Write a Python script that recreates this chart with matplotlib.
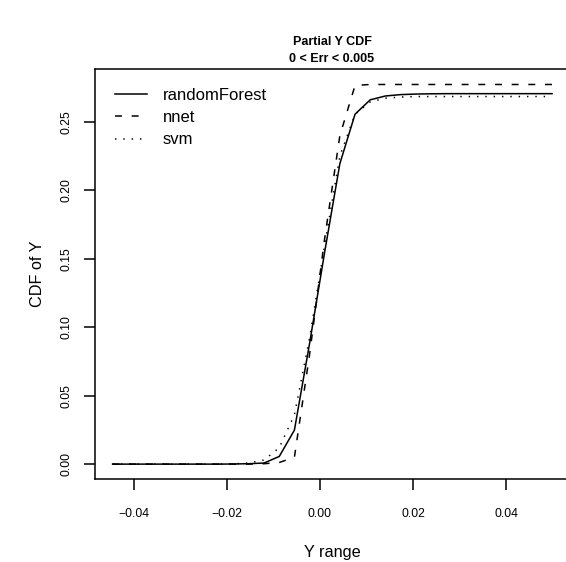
import matplotlib
matplotlib.use("Agg")
import matplotlib.pyplot as plt

plt.rcParams['font.family'] = ['Liberation Sans', 'DejaVu Sans']
plt.rcParams['lines.scale_dashes'] = False

# ---- data ----
y_range = [-0.04450, -0.04125, -0.03800, -0.03475, -0.03150, -0.02824, -0.02499,
           -0.02174, -0.01849, -0.01524, -0.01199, -0.00874, -0.00549, -0.00224,
           0.00101, 0.00427, 0.00752, 0.01077, 0.01402, 0.01727, 0.02052, 0.02378,
           0.02703, 0.03028, 0.03353, 0.03678, 0.04003, 0.04328, 0.04653, 0.04978]

cdf_randomForest = [0, 0, 0, 0, 0, 0, 0, 0, 0.0001, 0.0003, 0.0008, 0.0056, 0.0248,
                    0.088, 0.155, 0.2195, 0.2555, 0.2660, 0.2688, 0.2698, 0.2702,
                    0.2704, 0.2705, 0.2705, 0.2705, 0.2705, 0.2705, 0.2705, 0.2705, 0.2705]
cdf_nnet = [0, 0, 0, 0, 0, 0, 0, 0, 0, 0, 0.0003, 0.0012, 0.0050, 0.080, 0.165,
            0.240, 0.2765, 0.2772, 0.2772, 0.2772, 0.2772, 0.2772, 0.2772, 0.2772,
            0.2772, 0.2772, 0.2772, 0.2772, 0.2772, 0.2772]
cdf_svm = [0, 0, 0, 0, 0, 0, 0, 0, 0.0002, 0.0008, 0.0030, 0.0120, 0.0360, 0.092,
           0.160, 0.225, 0.2555, 0.2645, 0.2672, 0.2680, 0.2684, 0.2684, 0.2684,
           0.2684, 0.2684, 0.2684, 0.2684, 0.2684, 0.2684, 0.2684]

series_names = ["randomForest", "nnet", "svm"]
x_ticks = [-0.04, -0.02, 0.00, 0.02, 0.04]
y_ticks = [0.00, 0.05, 0.10, 0.15, 0.20, 0.25]

W, H = 566, 562
fig = plt.figure(figsize=(W / 100, H / 100), dpi=100)
left, right, top, bottom = 95, 569.6, 69.3, 479.3
ax = fig.add_axes([left / W, 1 - bottom / H, (right - left) / W, (bottom - top) / H])

lw = 1.1
ax.plot(y_range, cdf_randomForest, color='black', lw=lw, label=series_names[0])
ax.plot(y_range, cdf_nnet, color='black', lw=lw, dashes=(5.0, 7.0), label=series_names[1])
ax.plot(y_range, cdf_svm, color='black', lw=lw, dashes=(1.0, 5.0), label=series_names[2])
ax.margins(x=0.04, y=0.04)

ax.set_xticks(x_ticks)
ax.set_xticklabels(["\u22120.04", "\u22120.02", "0.00", "0.02", "0.04"])
ax.set_yticks(y_ticks)
ax.set_yticklabels(["0.00", "0.05", "0.10", "0.15", "0.20", "0.25"])
ax.tick_params(axis='both', length=8, width=1.1, labelsize=8.8, color='black')
ax.tick_params(axis='x', pad=13.0)
ax.tick_params(axis='y', pad=8.0)
for lab in ax.get_yticklabels():
    lab.set_rotation(90)
    lab.set_va('center')
for sp in ax.spines.values():
    sp.set_linewidth(1.1)

leg = ax.legend(loc='upper left', bbox_to_anchor=(115 / W, 1 - 87.5 / H),
                bbox_transform=fig.transFigure, frameon=False, fontsize=12,
                handlelength=1.92, handletextpad=0.96, labelspacing=0.45,
                borderpad=0, borderaxespad=0)

fig.text(332 / W, 1 - 42 / H, "Partial Y CDF", ha='center', va='center',
         fontsize=9, fontweight='bold')
fig.text(332 / W, 1 - 59 / H, "0 < Err < 0.005", ha='center', va='center',
         fontsize=9, fontweight='bold')
fig.text(332 / W, 1 - 553 / H, "Y range", ha='center', va='center', fontsize=11.7)
fig.text(37 / W, 1 - 274 / H, "CDF of Y", ha='center', va='center', fontsize=11.7,
         rotation=90)

fig.savefig("out.png", dpi=100)
